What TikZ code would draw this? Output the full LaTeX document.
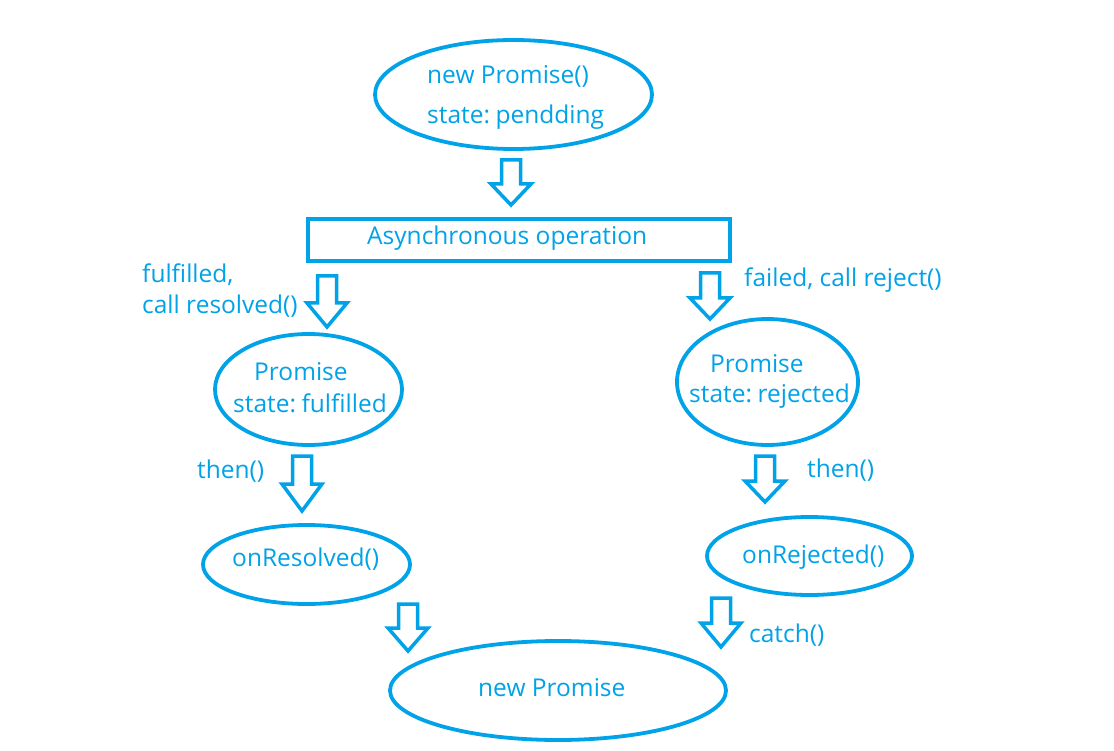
\documentclass[tikz,border=0pt]{standalone}
\usepackage{fontspec}
\setmainfont{Open Sans}
\usetikzlibrary{shapes.geometric}
\definecolor{pblue}{HTML}{00A2E8}
\newcommand\hollowarrow[4]{\draw[barrow] ({#1-9.5},#2) -- ({#1+9.5},#2) -- ({#1+9.5},#3) -- ({#1+20},#3) -- (#1,#4) -- ({#1-20},#3) -- ({#1-9.5},#3) -- cycle;}
\begin{document}
\begin{tikzpicture}[x=1pt,y=-1pt,
  oval/.style={draw=pblue, line width=3.8pt, ellipse, inner sep=0pt},
  boxshape/.style={draw=pblue, line width=3.8pt, rectangle, inner sep=0pt},
  lbl/.style={text=pblue, font=\fontsize{24.5}{28}\selectfont, anchor=base west, inner sep=0pt},
  barrow/.style={draw=pblue, line width=3.5pt, line join=miter}]
\useasboundingbox[fill=white] (0,0) rectangle (1114,751);

% shapes
\node[oval, minimum width=277, minimum height=109] (start) at (513.5,94.5) {};
\node[boxshape, minimum width=422, minimum height=42] (async) at (519,240) {};
\node[oval, minimum width=187, minimum height=111] (ful) at (308.5,389.5) {};
\node[oval, minimum width=181, minimum height=126] (rej) at (767.5,382) {};
\node[oval, minimum width=207, minimum height=79] (onres) at (306.5,564.5) {};
\node[oval, minimum width=205, minimum height=78] (onrej) at (809.5,556) {};
\node[oval, minimum width=336, minimum height=99] (newp) at (558,690.5) {};

% texts
\node[lbl] (t1) at (427,84) {new Promise()};
\node[lbl] (t2) at (427,124) {state:\hspace{-0.12em} pendding};
\node[lbl] (t3) at (367,245) {Asynchronous operation};
\node[lbl] (t4) at (142,283) {fulfilled,};
\node[lbl] (t5) at (142,314) {call resolved()};
\node[lbl] (t6) at (254,380) {Promise};
\node[lbl] (t7) at (233,412) {state:\hspace{-0.12em} fulfilled};
\node[lbl] (t8) at (744,287) {failed, call reject()};
\node[lbl] (t9) at (710,372) {Promise};
\node[lbl] (t10) at (689,402) {state:\hspace{-0.12em} rejected};
\node[lbl] (t11) at (197,478) {then()};
\node[lbl] (t12) at (232,566) {onResolved()};
\node[lbl] (t13) at (807,477) {then()};
\node[lbl] (t14) at (742,563) {onRejected()};
\node[lbl] (t15) at (749,642) {catch()};
\node[lbl] (t16) at (478,696) {new Promise};

% block arrows
\hollowarrow{511}{160}{184}{205}
\hollowarrow{327}{276}{303}{327}
\hollowarrow{710}{273}{298}{319}
\hollowarrow{302}{456}{484}{511}
\hollowarrow{765}{456}{481}{502}
\hollowarrow{408}{604}{628}{651}
\hollowarrow{721}{598}{623}{647}
\end{tikzpicture}
\end{document}
